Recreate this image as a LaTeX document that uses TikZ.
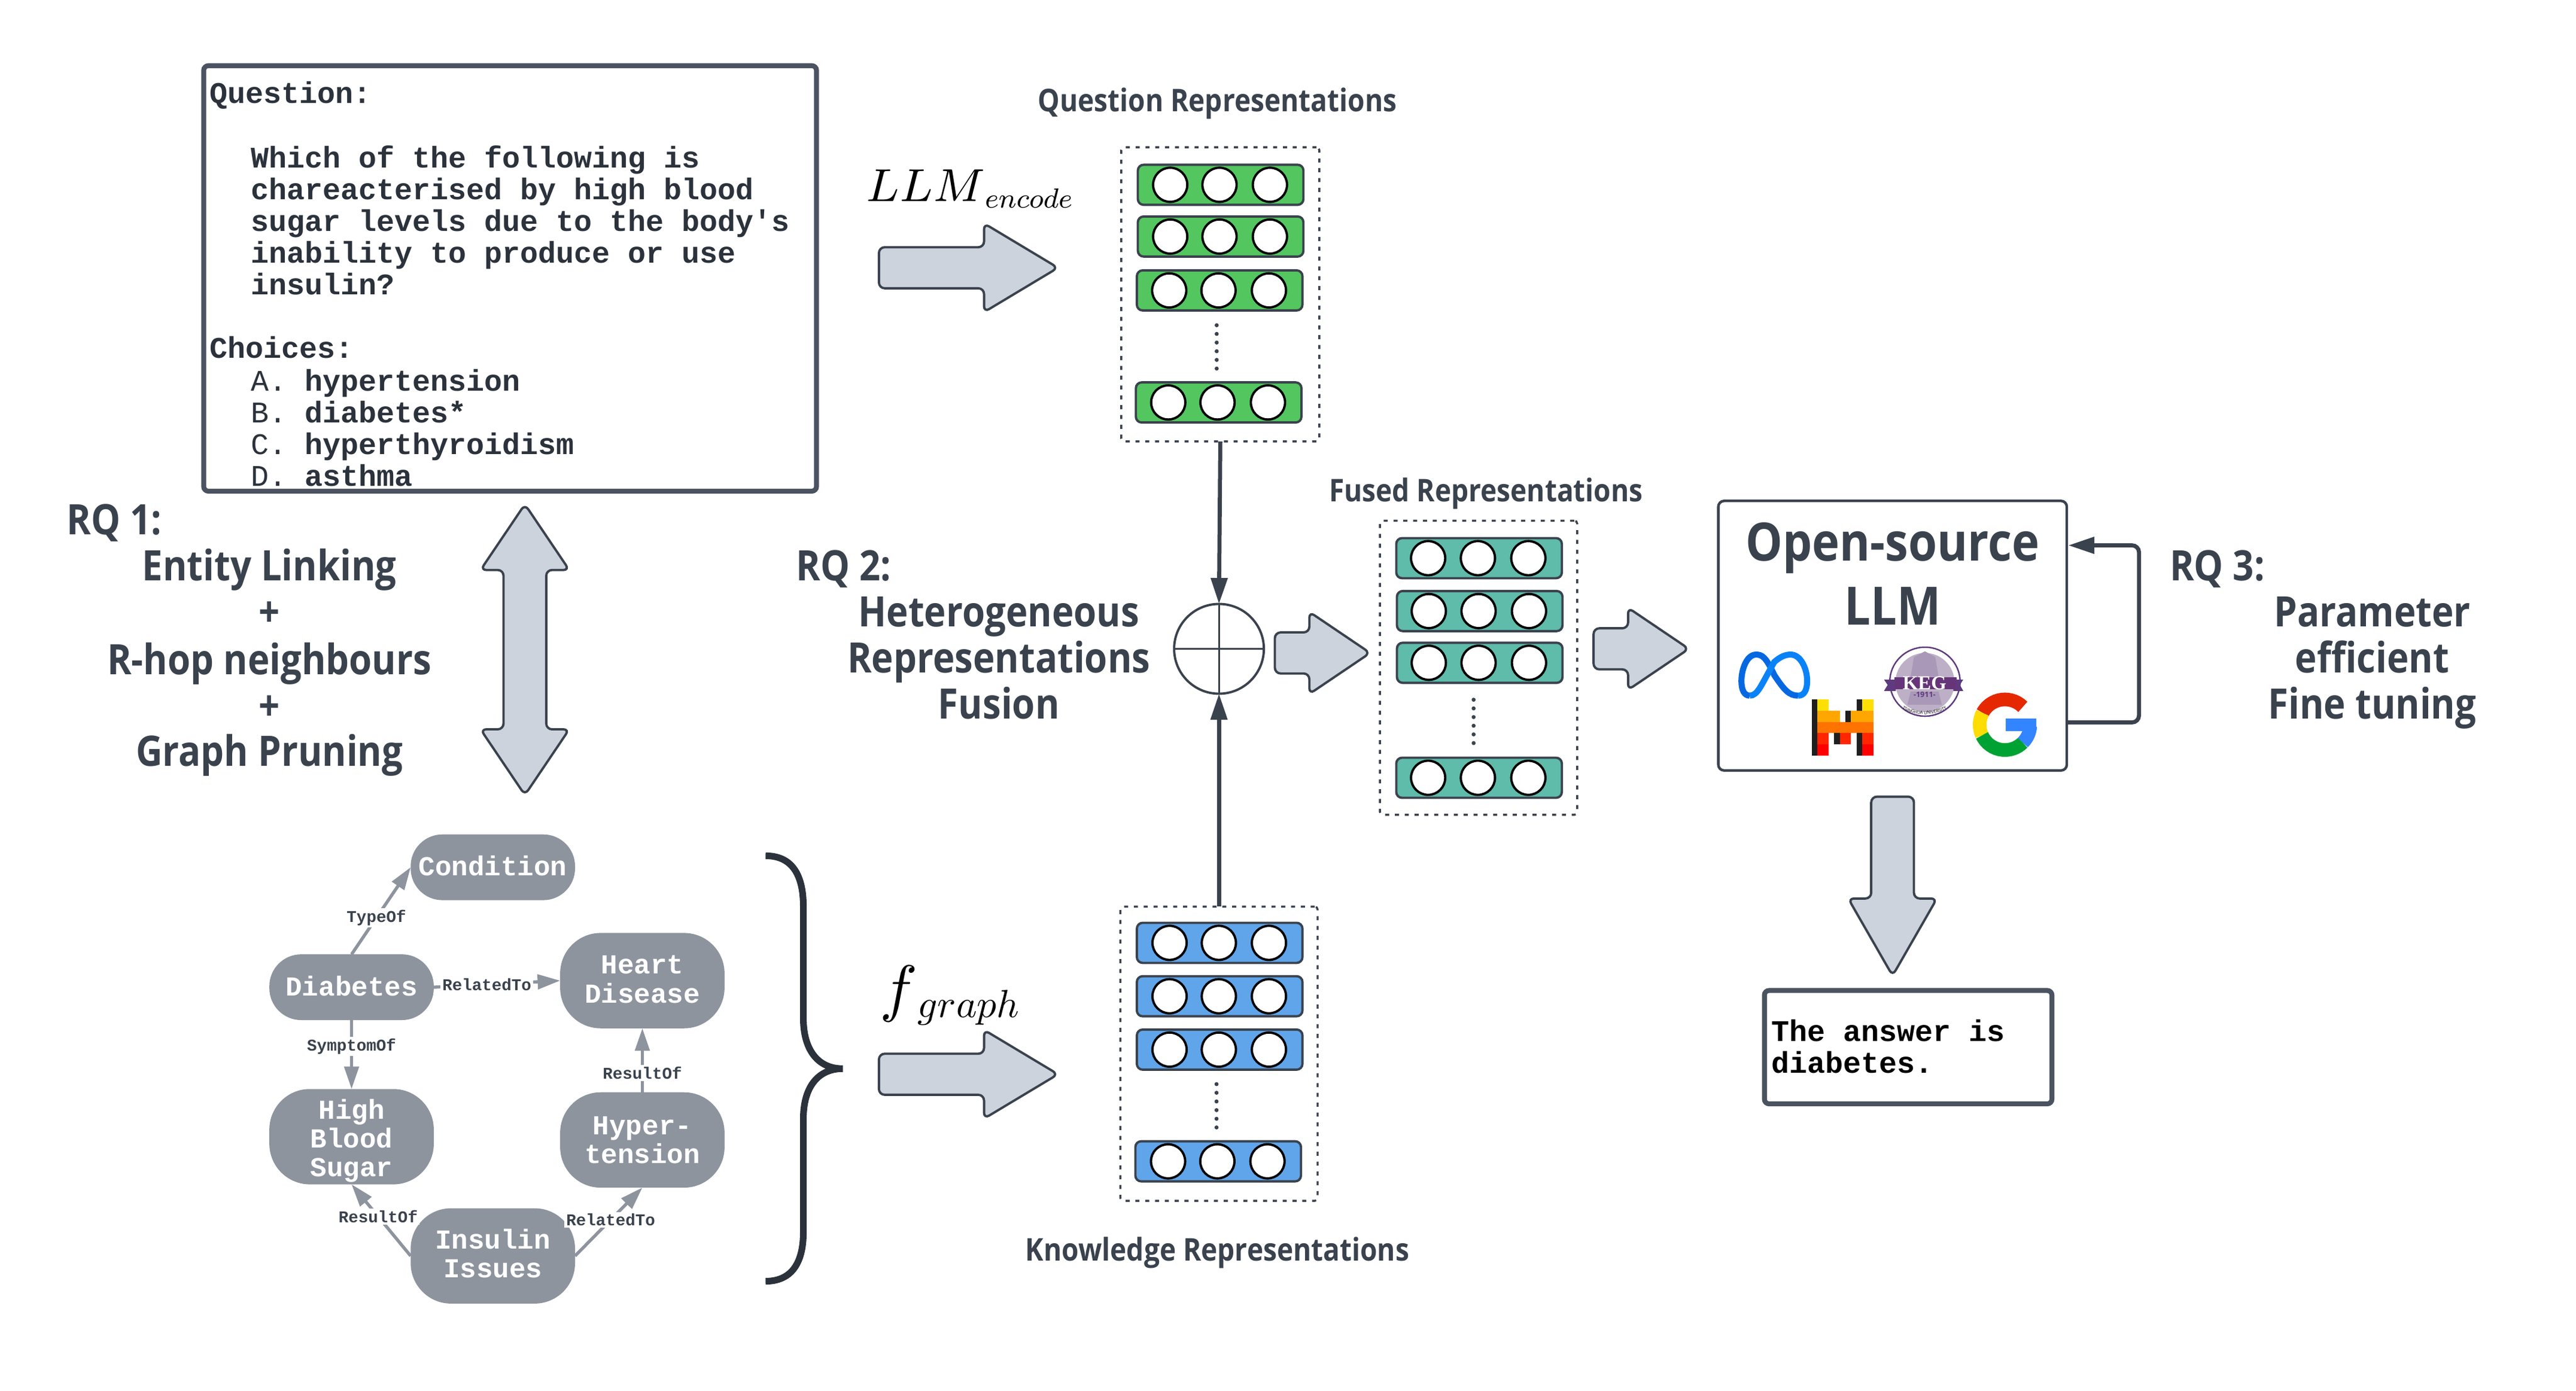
\documentclass[tikz,border=0pt]{standalone}
\usepackage{fontspec}
\setmainfont{Open Sans}
\newfontfamily\labelfont[FakeStretch=0.88]{Open Sans}
\newfontfamily\monofont{Liberation Mono}
\newfontfamily\sealfont{Liberation Serif}
\usepackage{tikz}
\usetikzlibrary{arrows.meta,decorations.text}

\definecolor{inkgray}{HTML}{3A424D}
\definecolor{darkink}{HTML}{2B323B}
\definecolor{boxgray}{HTML}{4B5260}
\definecolor{arrowfill}{HTML}{CDD3DC}
\definecolor{graphgray}{HTML}{8E949E}
\definecolor{bargreen}{HTML}{53C660}
\definecolor{barteal}{HTML}{5FBBAA}
\definecolor{barblue}{HTML}{60A5EA}
\definecolor{kegdark}{HTML}{5E3A7E}
\definecolor{kegribbon}{HTML}{663579}
\definecolor{keglight}{HTML}{BDB0C6}
\definecolor{metadark}{HTML}{0668E1}
\definecolor{metalight}{HTML}{0A82F7}

\newcommand{\updepth}[1]{\rule[-#1]{0pt}{0pt}}

\tikzset{
  textbox/.style={draw=boxgray,line width=0.85pt,rounded corners=0.8pt,fill=white},
  repbar/.style={draw=inkgray,line width=0.4pt,rounded corners=1pt},
  repcell/.style={draw=black,line width=0.4pt,fill=white},
  repbox/.style={draw=inkgray,line width=0.35pt,dash pattern=on 0.7pt off 1pt,rounded corners=0.5pt,inner sep=0pt,outer sep=0pt},
  repdots/.style={draw=inkgray,line width=0.7pt,line cap=round,dash pattern=on 0pt off 1.5pt},
  blockarrow/.style={draw=inkgray,line width=0.4pt,fill=arrowfill,rounded corners=1pt},
  flowarrow/.style={draw=inkgray,line width=0.7pt,-{Triangle[length=4.5pt,width=2.8pt]}},
  reptitle/.style={font=\labelfont\fontsize{5.42}{6}\selectfont\bfseries,text=inkgray,text height=3.85pt,text depth=0pt,inner sep=0pt},
  rqtext/.style={font=\labelfont\fontsize{7.26}{8}\selectfont\bfseries,text=inkgray,text height=4.85pt,text depth=0pt,inner sep=0pt},
  llmtext/.style={font=\labelfont\fontsize{9.15}{10}\selectfont\bfseries,text=inkgray,text height=6.7pt,text depth=0pt,inner sep=0pt},
  graphnode/.style={fill=graphgray,text=white,align=center,inner sep=0pt,outer sep=0pt,minimum width=1cm,
    font=\monofont\fontsize{4.75}{5}\selectfont\bfseries},
  graphedge/.style={draw=graphgray,line width=0.55pt,-{Triangle[length=3.9pt,width=2.5pt]}},
  edgelabel/.style={fill=white,inner sep=0.3pt,text=inkgray,font=\monofont\fontsize{2.85}{3}\selectfont\bfseries},
  monotext/.style={anchor=north west,inner sep=0pt,align=left,text=darkink,font=\monofont\fontsize{5.18}{5.5}\selectfont\bfseries}
}

\begin{document}
\begin{tikzpicture}[x=0.01cm,y=-0.01cm]
  \useasboundingbox (0,0) rectangle (1568,846.8);

  %Question box
  \draw[textbox] (124,40) rectangle (497,299);
  \node[monotext] (qtitle) at (127,49) {Question:};
  \node[monotext] (qbody) at (152,88) {Which of the following is\\chareacterised by high blood\\sugar levels due to the body's\\inability to produce or use\\insulin?};
  \node[monotext] (qchoices) at (127,204) {Choices:};
  \node[monotext] (qoptions) at (152,224) {{\mdseries A.} hypertension\\{\mdseries B.} diabetes*\\{\mdseries C.} hyperthyroidism\\{\mdseries D.} asthma};

  %Block arrows to the right
  \foreach \ax/\ay/\al/\ah/\aw in {535/163/109/45/27, 535/654/109/45/27, 776/397.5/58/37/25, 970/395/58/37/25}{
    \draw[blockarrow] (\ax,\ay-12.5) -- (\ax+\al-\ah,\ay-12.5) -- (\ax+\al-\ah,\ay-\aw) -- (\ax+\al,\ay)
      -- (\ax+\al-\ah,\ay+\aw) -- (\ax+\al-\ah,\ay+12.5) -- (\ax,\ay+12.5) -- cycle;
  }

  %Block arrow up and down
  \draw[blockarrow] (319.5,307) -- (346.5,347) -- (332.5,347) -- (332.5,444) -- (346.5,444) -- (319.5,484)
    -- (292.5,444) -- (306.5,444) -- (306.5,347) -- (292.5,347) -- cycle;

  %Block arrow down
  \draw[blockarrow] (1139,485) -- (1165,485) -- (1165,547) -- (1179,547) -- (1152,594) -- (1125,547) -- (1139,547) -- cycle;

  %Representation boxes
  \node[repbox,minimum width=1.205cm,minimum height=1.79cm] (qbox) at (742.8,179.2) {};
  \node[repbox,minimum width=1.2cm,minimum height=1.79cm] (fbox) at (900,406.5) {};
  \node[repbox,minimum width=1.2cm,minimum height=1.79cm] (kbox) at (742,641.5) {};

  %Green bars
  \foreach \bx/\by in {743/112.5, 743/144, 742.4/176.8, 741.8/245}{
    \draw[repbar,fill=bargreen] (\bx-50.4,\by-12.2) rectangle (\bx+50.4,\by+12.2);
    \foreach \cx in {-30.7,-0.7,30}{
      \draw[repcell] (\bx+\cx,\by) circle (10.4);
    }
  }
  \draw[repdots] (740.6,198) -- (740.6,225);

  %Teal bars
  \foreach \bx/\by in {900.3/339.8, 900.7/372, 900.7/403.5, 900.3/473.5}{
    \draw[repbar,fill=barteal] (\bx-50.4,\by-12.2) rectangle (\bx+50.4,\by+12.2);
    \foreach \cx in {-31,-0.7,30}{
      \draw[repcell] (\bx+\cx,\by) circle (10.4);
    }
  }
  \draw[repdots] (897,426) -- (897,453);

  %Blue bars
  \foreach \bx/\by in {742.4/574, 742.4/606.5, 742.4/639, 741.5/707}{
    \draw[repbar,fill=barblue] (\bx-50.4,\by-12.2) rectangle (\bx+50.4,\by+12.2);
    \foreach \cx in {-30.5,-0.5,30}{
      \draw[repcell] (\bx+\cx,\by) circle (10.4);
    }
  }
  \draw[repdots] (740.5,660) -- (740.5,687);

  %Titles
  \node[reptitle] (qtitlerep) at (741,61) {Question Representations};
  \node[reptitle] (ftitlerep) at (904.5,298.5) {Fused Representations};
  \node[reptitle] (ktitlerep) at (741,761) {Knowledge Representations};

  %Math labels
  \node[text=black,inner sep=0pt,font=\fontsize{7.6}{10}\selectfont] (llmenc) at (590,115) {$LLM$\raisebox{-1.2pt}{\scalebox{0.6}{$encode$}}};
  \node[text=black,inner sep=0pt,font=\fontsize{11}{13}\selectfont] (fgraph) at (578,606) {$f$\raisebox{-1.4pt}{\scalebox{0.62}{$graph$}}};

  %Fusion circle
  \node[draw=inkgray,line width=0.4pt,circle,minimum size=0.546cm,inner sep=0pt,outer sep=0pt] (oplus) at (742,395) {};
  \draw[inkgray,line width=0.35pt] (oplus.north) -- (oplus.south);
  \draw[inkgray,line width=0.35pt] (oplus.west) -- (oplus.east);
  \draw[flowarrow] (qbox.south) -- (oplus.north);
  \draw[flowarrow] (kbox.north) -- (oplus.south);

  %LLM box
  \node[draw=inkgray,line width=0.45pt,rounded corners=1pt,minimum width=2.12cm,minimum height=1.64cm,inner sep=0pt,outer sep=0pt] (llm) at (1152,387) {};
  \node[llmtext] (opensrc) at (1152,329.7) {Open-source};
  \node[llmtext] (llmname) at (1152,368.6) {LLM};
  \coordinate (fbout) at (1258,439.8);
  \coordinate (fbin) at (1259,332);
  \draw[flowarrow,rounded corners=1.2pt] (fbout) -- (1302,439.8) -- (1302,332) -- (fbin);

  %Meta logo
  \draw[line width=1.05pt,color=metadark] (1065,423.5) .. controls (1062,423.5) and (1060,420.5) .. (1060,414.5)
    .. controls (1060,408) and (1063,398.5) .. (1069,398.5) .. controls (1072.5,398.5) and (1075,400) .. (1080,411)
    .. controls (1086,420) and (1089,423.5) .. (1094.5,423.5);
  \draw[line width=1.05pt,color=metalight] (1065,423.5) .. controls (1070,423.5) and (1072,417) .. (1080,403)
    .. controls (1084,399.5) and (1087,398.5) .. (1090,398.5) .. controls (1096,398.5) and (1100,407) .. (1100,414.5)
    .. controls (1100,420.5) and (1098,423.5) .. (1094.5,423.5);

  %Mistral logo
  \fill[black!88] (1102.7,425.9) rectangle (1106.2,460);
  \fill[yellow!82!orange] (1106.2,425.9) rectangle (1113.1,432.7);
  \fill[black!88] (1130.3,425.9) rectangle (1133.6,432.7);
  \fill[yellow!82!orange] (1133.6,425.9) rectangle (1140.5,432.7);
  \fill[orange!70!yellow] (1106.2,432.7) rectangle (1120,439.5);
  \fill[black!88] (1123.4,432.7) rectangle (1126.7,439.5);
  \fill[orange!70!yellow] (1126.7,432.7) rectangle (1140.5,439.5);
  \fill[orange!90!red] (1106.2,439.5) rectangle (1140.5,446.3);
  \fill[red!70!orange] (1106.2,446.3) rectangle (1113.1,453.1);
  \fill[black!88] (1116.5,446.3) rectangle (1120,453.1);
  \fill[red!70!orange] (1120,446.3) rectangle (1126.7,453.1);
  \fill[black!88] (1130.3,446.3) rectangle (1133.6,460);
  \fill[red!70!orange] (1133.6,446.3) rectangle (1140.5,453.1);
  \fill[red] (1106.2,453.1) rectangle (1113.1,460);
  \fill[red] (1133.6,453.1) rectangle (1140.5,460);

  %KEG seal
  \draw[kegdark,line width=0.25pt,fill=white] (1171.7,415) ellipse (21.4 and 21);
  \fill[keglight] (1171.7,415.5) ellipse (18 and 18);
  \fill[keglight!80!kegdark] (1165,400) -- (1171.7,396.5) -- (1178,400) -- (1180,412) -- (1163,412) -- cycle;
  \fill[keglight!80!kegdark] (1163,421) -- (1180,421) -- (1182,429) -- (1161,429) -- cycle;
  \fill[kegdark] (1146.8,413.7) -- (1154,413.7) -- (1154,420.6) -- (1146.8,420.6) -- (1149,417) -- cycle;
  \fill[kegdark] (1195,413.7) -- (1189,413.7) -- (1189,420.6) -- (1195,420.6) -- (1193,417) -- cycle;
  \fill[kegribbon] (1153,412.4) rectangle (1191,419.7);
  \node[inner sep=0pt,text=white,font=\sealfont\fontsize{3.4}{3.4}\selectfont\bfseries] (kegname) at (1171.5,416) {KEG};
  \node[inner sep=0pt,text=kegdark,font=\fontsize{1.3}{1.3}\selectfont\bfseries] (kegyear) at (1171.5,422.7) {-1911-};
  \path[postaction={decorate,decoration={text along path,text align=center,
    text={|\fontsize{0.75}{1}\selectfont|TSINGHUA UNIVERSITY}}}] (1156,430) .. controls (1163,436.5) and (1180,436.5) .. (1187,430);

  %Google logo
  \begin{scope}[shift={(1220.4,441.2)},yscale=-1,line width=2.36pt]
    \draw[red!65!orange!90!black] (45:15.4) arc[start angle=45,end angle=152,radius=15.4];
    \draw[yellow!80!orange] (152:15.4) arc[start angle=152,end angle=205,radius=15.4];
    \draw[green!55!black!80!cyan] (205:15.4) arc[start angle=205,end angle=315,radius=15.4];
    \draw[blue!60!cyan!80!white] (315:15.4) arc[start angle=315,end angle=357,radius=15.4];
    \fill[blue!60!cyan!80!white] (0.5,3.6) rectangle (19.2,-4);
  \end{scope}

  %Answer box
  \draw[textbox] (1074,603) rectangle (1249,672);
  \node[monotext,text=black] (answer) at (1077.5,620) {The answer is\\diabetes.};

  %RQ labels
  \node[rqtext,anchor=west] (rqone) at (40,317) {RQ 1:};
  \node[rqtext] (rqonea) at (164,345) {Entity Linking};
  \node[rqtext] (rqoneb) at (164,373) {+};
  \node[rqtext] (rqonec) at (164,402) {R-hop neighbours};
  \node[rqtext] (rqoned) at (164,430) {+};
  \node[rqtext] (rqonee) at (164,458) {Graph Pruning};

  \node[rqtext,anchor=west] (rqtwo) at (484,345) {RQ 2:};
  \node[rqtext] (rqtwoa) at (608,373) {Heterogeneous};
  \node[rqtext] (rqtwob) at (608,401) {Representations};
  \node[rqtext] (rqtwoc) at (608,429) {Fusion};

  \node[rqtext,anchor=west] (rqthree) at (1320,345) {RQ 3:};
  \node[rqtext] (rqthreea) at (1444,373) {Parameter};
  \node[rqtext] (rqthreeb) at (1444,401) {efficient};
  \node[rqtext] (rqthreec) at (1444,429) {Fine tuning};

  %Knowledge graph
  \node[graphnode,minimum height=0.4cm,rounded corners=5.5pt] (condition) at (300,528) {Condition\updepth{0.5pt}};
  \node[graphnode,minimum height=0.4cm,rounded corners=5.5pt] (diabetes) at (214,601) {Diabetes\updepth{0.5pt}};
  \node[graphnode,minimum height=0.58cm,rounded corners=7pt] (heart) at (391,597) {Heart\\Disease\updepth{0.5pt}};
  \node[graphnode,minimum height=0.58cm,rounded corners=7pt] (highsugar) at (214,692) {\rule{0pt}{4.85pt}High\\Blood\\Sugar};
  \node[graphnode,minimum height=0.58cm,rounded corners=7pt] (hyper) at (391,694) {Hyper-\\tension};
  \node[graphnode,minimum height=0.58cm,rounded corners=7pt] (insulin) at (300,764.6) {Insulin\\Issues\updepth{0.9pt}};

  \draw[graphedge] (diabetes.north) -- node[edgelabel,pos=0.42] (typeof) {TypeOf} (condition.west);
  \draw[graphedge] (diabetes.east) -- node[edgelabel,pos=0.42] (relto) {RelatedTo} (heart.west);
  \draw[graphedge] (diabetes.south) -- node[edgelabel,pos=0.38] (sympt) {SymptomOf} (highsugar.north);
  \draw[graphedge] (hyper.north) -- node[edgelabel,pos=0.3] (resof) {ResultOf} (heart.south);
  \draw[graphedge] (insulin.west) -- node[edgelabel,pos=0.55] (resoftwo) {ResultOf} (highsugar.south);
  \draw[graphedge] (insulin.east) -- node[edgelabel,pos=0.53] (reltotwo) {RelatedTo} (hyper.south);

  %Brace
  \draw[darkink,line width=1.15pt] (466,521) .. controls (481,521) and (489,531) .. (489,552) -- (489,620)
    .. controls (489,638) and (497,650.6) .. (513,650.6) .. controls (497,650.6) and (489,663) .. (489,681)
    -- (489,750) .. controls (489,770) and (481,780) .. (466,780);
\end{tikzpicture}
\end{document}
